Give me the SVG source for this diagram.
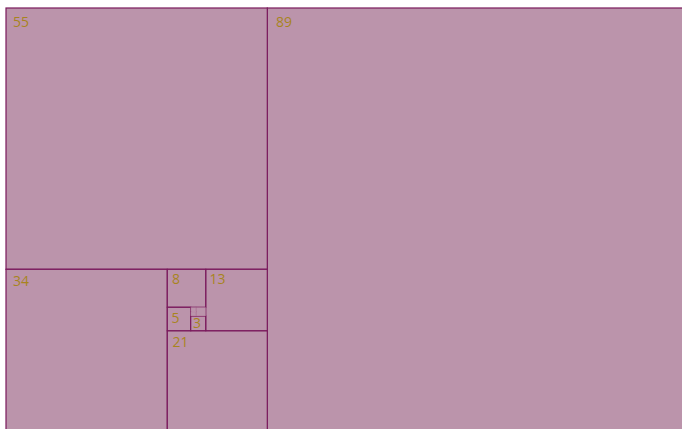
<svg xmlns="http://www.w3.org/2000/svg" width="682" height="429" viewBox="0 0 682 429">
<style>
rect{fill:#bb94ab;stroke:#7a1a5c;stroke-width:1.2}
.f{stroke-opacity:0.12}
text{font-family:"Open Sans","Noto Sans",sans-serif;font-size:14px;fill:#a8841e}
</style>
<rect width="682" height="429" fill="#ffffff" style="fill:#fff;stroke:none"/>
<g id="sq89"><rect x="267.3" y="8" width="422.3" height="422.3"/><text x="276" y="27.3">89</text></g>
<g id="sq55"><rect x="6" y="8" width="261.3" height="261.3"/><text x="13" y="27.3">55</text></g>
<g id="sq34"><rect x="6" y="269.3" width="161.3" height="161.3"/><text x="13" y="285.7">34</text></g>
<g id="sq21"><rect x="167.3" y="330.7" width="100" height="100"/><text x="172.5" y="347.3">21</text></g>
<g id="sq13"><rect x="205.7" y="269.3" width="61.6" height="61.4"/><text x="209.5" y="284.3">13</text></g>
<g id="sq8"><rect x="167.3" y="269.3" width="38.4" height="38"/><text x="172" y="284.3">8</text></g>
<g id="sq5"><rect x="167.3" y="307.3" width="23.4" height="23.4"/><text x="171.5" y="322.7">5</text></g>
<g id="sq3"><rect x="190.7" y="316" width="15" height="14.7"/><text x="193" y="328">3</text></g>
<g id="sq2"><rect class="f" x="196" y="307.3" width="9.7" height="8.7"/></g>
<g id="sq1a"><rect class="f" x="190.7" y="307.3" width="5.3" height="4.3"/></g>
<g id="sq1b"><rect class="f" x="190.7" y="311.6" width="5.3" height="4.4"/></g>
<g id="connectors"></g>
</svg>
